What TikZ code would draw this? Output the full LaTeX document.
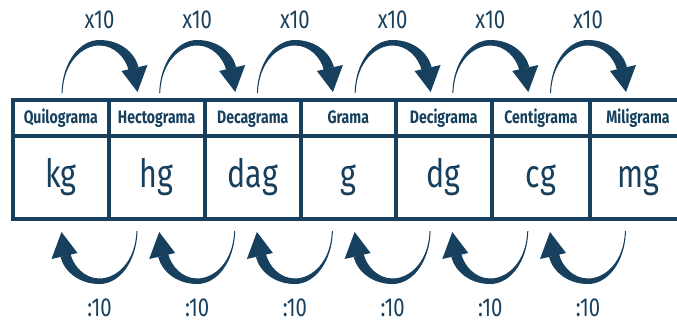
\documentclass[tikz,border=0pt]{standalone}
\usepackage{fontspec}
\usepackage{xcolor}
\newfontfamily\dinfont[FakeStretch=0.78]{Fira Sans}
\definecolor{navy}{HTML}{17405F}

\tikzset{
  pics/bendarrow/.style={code={
    \fill (-38,69) .. controls (-37,100) and (-20,122) .. (0,122) .. controls (20,122) and (35,110) .. (39,95)
      -- (29,92) .. controls (26,104) and (15,116.5) .. (0,116.5) .. controls (-17,116.5) and (-36,100) .. (-37,69) -- cycle;
    \fill (22,91) -- (48,97) -- (38,70) -- cycle;
  }}
}

\begin{document}
\begin{tikzpicture}[x=1pt,y=1pt,
  cellhead/.style={text=navy,font=\dinfont\bfseries\fontsize{18}{20}\selectfont,anchor=base,inner sep=0pt},
  cellunit/.style={text=navy,font=\dinfont\fontsize{39}{42}\selectfont,anchor=base,inner sep=0pt},
  factor/.style={text=navy,font=\dinfont\fontsize{26}{28}\selectfont,anchor=base,inner sep=0pt,text depth=0pt}]
  \useasboundingbox (0,0) rectangle (677,322);
  \clip (0,0) rectangle (677,322);
  \fill[white] (0,0) rectangle (677,322);
  % table
  \draw[navy,line width=4pt] (13,103.3) rectangle (690,222.5);
  \draw[navy,line width=4pt] (13,185.7) -- (690,185.7);
  \foreach \x in {108.7,204.5,301,395.5,492,590}
    \draw[navy,line width=4pt] (\x,103.3) -- (\x,222.5);
  % names and symbols
  \foreach \n/\xa/\xb/\name/\unit in {0/13/108.7/Quilograma/kg,1/108.7/204.5/Hectograma/hg,
      2/204.5/301/Decagrama/dag,3/301/395.5/Grama/g,4/395.5/492/Decigrama/dg,
      5/492/590/Centigrama/cg,6/590/686/Miligrama/mg}{
    \node[cellhead] (h\n) at ({(\xa+\xb)/2},198.7) {\name};
    \node[cellunit] (u\n) at ({(\xa+\xb)/2},135) {\unit};
  }
  % arrows
  \foreach \i in {0,...,5}{
    \pic[navy] at ({99.5+97.7*\i},160) {bendarrow};
    \pic[navy,rotate=180] at ({99.5+97.7*\i},160) {bendarrow};
    \node[factor] (up\i) at ({99.5+97.7*\i},293) {x10};
    \node[factor] (dn\i) at ({99.5+97.7*\i},6) {:10};
  }
\end{tikzpicture}
\end{document}
